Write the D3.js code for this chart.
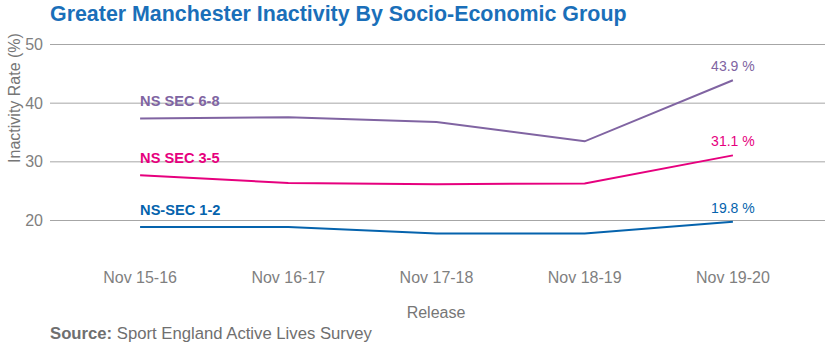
<!DOCTYPE html>
<html lang="en">
<head>
    <meta charset="UTF-8">
    <title>Greater Manchester Inactivity By Socio-Economic Group</title>
    <script src="https://d3js.org/d3.v7.min.js"></script>
    <style>
        body { margin: 0; background: #fff; font-family: Arial, "Liberation Sans", sans-serif; }
        .tick-label { font-size: 16px; fill: #7f7f7f; }
        .axis-title { font-size: 16px; fill: #767676; }
        .chart-title { font-size: 21.4px; font-weight: bold; fill: #1a6fb9; }
    </style>
</head>
<body>
    <svg width="829" height="350"></svg>
    <script>
        const releases = ["Nov 15-16", "Nov 16-17", "Nov 17-18", "Nov 18-19", "Nov 19-20"];
        const seriesNames = ["NS SEC 6-8", "NS SEC 3-5", "NS-SEC 1-2"];
        const sec68 = [37.4, 37.6, 36.8, 33.5, 43.9];
        const sec35 = [27.7, 26.4, 26.2, 26.3, 31.1];
        const sec12 = [18.9, 18.9, 17.8, 17.8, 19.8];
        const yTicks = [20, 30, 40, 50];
        const colors = ["#8064a2", "#e6007e", "#0563ad"];

        const series = [sec68, sec35, sec12].map((vals, i) => ({
            name: seriesNames[i],
            color: colors[i],
            values: vals.map((v, j) => ({ release: releases[j], value: v }))
        }));

        const svg = d3.select("svg");

        const x = d3.scaleBand()
            .domain(releases)
            .range([66, 807]);

        const y = d3.scaleLinear()
            .domain([20, 50])
            .range([220.5, 44.5]);

        const cx = d => x(d) + x.bandwidth() / 2;

        // gridlines
        svg.append("g")
            .selectAll("line")
            .data(yTicks)
            .enter()
            .append("line")
            .attr("x1", 50)
            .attr("x2", 825)
            .attr("y1", d => y(d))
            .attr("y2", d => y(d))
            .attr("stroke", "#a6a6a6")
            .attr("stroke-width", 1);

        // y ticks
        svg.append("g")
            .selectAll("text")
            .data(yTicks)
            .enter()
            .append("text")
            .attr("class", "tick-label")
            .attr("x", 43)
            .attr("y", d => y(d))
            .attr("dy", "0.35em")
            .attr("text-anchor", "end")
            .text(d => d);

        // x ticks
        svg.append("g")
            .selectAll("text")
            .data(releases)
            .enter()
            .append("text")
            .attr("class", "tick-label")
            .attr("fill", "#6f6f6f")
            .attr("x", d => cx(d))
            .attr("y", 283)
            .attr("text-anchor", "middle")
            .text(d => d);

        const line = d3.line()
            .x(d => cx(d.release))
            .y(d => y(d.value));

        svg.selectAll(".series")
            .data(series)
            .enter()
            .append("path")
            .attr("class", "series")
            .attr("d", d => line(d.values))
            .attr("fill", "none")
            .attr("stroke", d => d.color)
            .attr("stroke-width", 2);

        // series names above first point
        svg.selectAll(".series-name")
            .data(series)
            .enter()
            .append("text")
            .attr("class", "series-name")
            .attr("x", d => cx(d.values[0].release))
            .attr("y", d => y(d.values[0].value) - 12)
            .attr("font-size", "14.6px")
            .attr("font-weight", "bold")
            .attr("fill", d => d.color)
            .text(d => d.name);

        // end value labels
        svg.selectAll(".end-label")
            .data(series)
            .enter()
            .append("text")
            .attr("class", "end-label")
            .attr("x", d => cx(d.values[d.values.length - 1].release))
            .attr("y", d => y(d.values[d.values.length - 1].value) - 9)
            .attr("text-anchor", "middle")
            .attr("font-size", "14px")
            .attr("fill", d => d.color)
            .text(d => `${d.values[d.values.length - 1].value.toFixed(1)} %`);

        svg.append("text")
            .attr("class", "chart-title")
            .attr("x", 50)
            .attr("y", 21)
            .text("Greater Manchester Inactivity By Socio-Economic Group");

        svg.append("text")
            .attr("class", "axis-title")
            .attr("transform", "translate(20,98) rotate(-90)")
            .attr("text-anchor", "middle")
            .text("Inactivity Rate (%)");

        svg.append("text")
            .attr("class", "axis-title")
            .attr("x", 436)
            .attr("y", 318)
            .attr("text-anchor", "middle")
            .text("Release");

        const src = svg.append("text")
            .attr("x", 50)
            .attr("y", 339)
            .attr("font-size", "16.7px")
            .attr("fill", "#6f6f6f");
        src.append("tspan").attr("font-weight", "bold").text("Source:");
        src.append("tspan").text(" Sport England Active Lives Survey");
    </script>
</body>
</html>
